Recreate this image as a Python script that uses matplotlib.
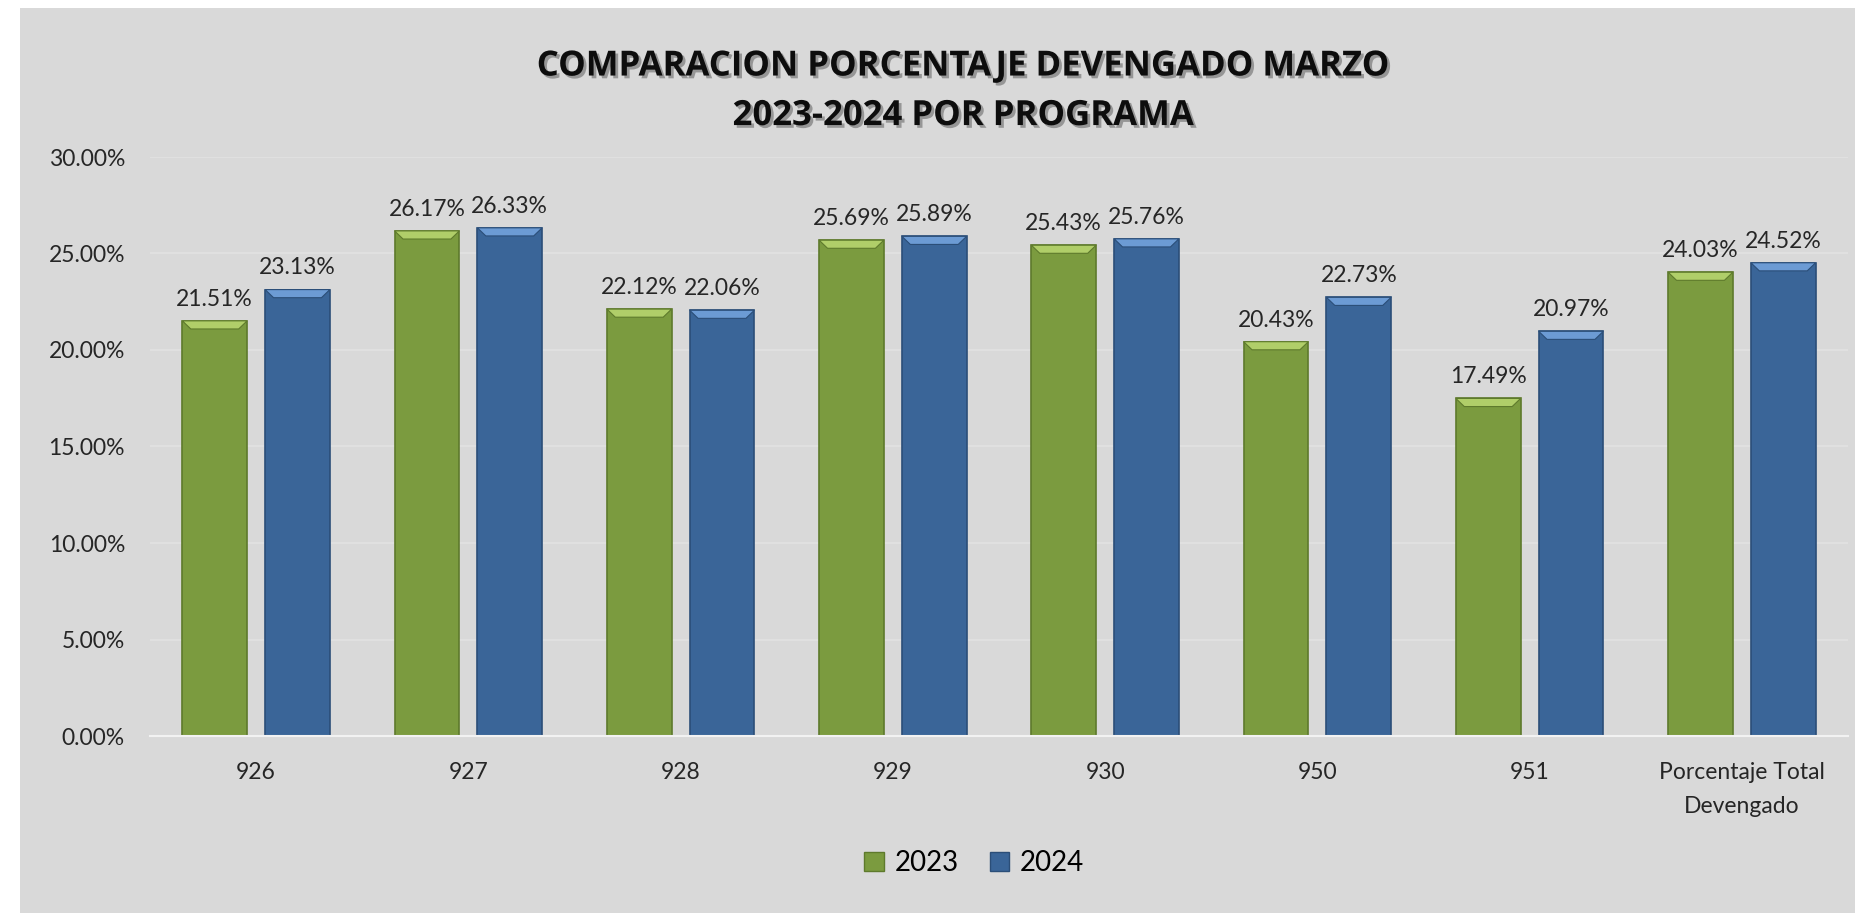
import matplotlib
matplotlib.use("Agg")
import matplotlib.pyplot as plt
import matplotlib.patheffects as pe
from matplotlib.patches import Polygon, Patch, Rectangle

plt.rcParams['font.family'] = ['Lato', 'DejaVu Sans']

categories = ['926', '927', '928', '929', '930', '950', '951', 'Porcentaje Total\nDevengado']
values_2023 = [21.51, 26.17, 22.12, 25.69, 25.43, 20.43, 17.49, 24.03]
values_2024 = [23.13, 26.33, 22.06, 25.89, 25.76, 22.73, 20.97, 24.52]
series_names = ['2023', '2024']
y_ticks = [0, 5, 10, 15, 20, 25, 30]

green = '#7B9B3F'
green_top = '#B0CE69'
green_edge = '#5E7A2C'
blue = '#3A6598'
blue_top = '#6C9BD4'
blue_edge = '#2B4E78'
bg = '#D9D9D9'

fig = plt.figure(figsize=(18.56, 9.13), dpi=100)
fig.patch.set_facecolor('white')
fig.patches.append(Rectangle((20 / 1856, 0), 1 - 20 / 1856, 1 - 8 / 913,
                             transform=fig.transFigure, facecolor=bg,
                             edgecolor='none', zorder=-10))

ax = fig.add_axes([150 / 1856, 1 - 736 / 913, 1698 / 1856, 579 / 913])
ax.set_facecolor(bg)
ax.patch.set_alpha(0)

x = list(range(len(categories)))
w = 0.305
off = 0.195


def draw_series(xs, vals, face, top, edge):
    bars = ax.bar(xs, vals, width=w, color=face, edgecolor=edge, linewidth=1.2, zorder=3)
    for rect in bars:
        x0 = rect.get_x()
        bw = rect.get_width()
        h = rect.get_height()
        bh = 0.42
        inset = bw * 0.13
        poly = Polygon([(x0, h), (x0 + bw, h), (x0 + bw - inset, h - bh), (x0 + inset, h - bh)],
                       closed=True, facecolor=top, edgecolor=edge, linewidth=0.8, zorder=4)
        ax.add_patch(poly)
    return bars


b1 = draw_series([i - off for i in x], values_2023, green, green_top, green_edge)
b2 = draw_series([i + off for i in x], values_2024, blue, blue_top, blue_edge)

for bars, vals in ((b1, values_2023), (b2, values_2024)):
    for rect, v in zip(bars, vals):
        ax.annotate('%.2f%%' % v, (rect.get_x() + rect.get_width() / 2, v),
                    xytext=(0, 8), textcoords='offset points', ha='center', va='bottom',
                    fontsize=16.5, color='#262626', zorder=5)

ax.set_xlim(-0.5, len(categories) - 0.5)
ax.set_ylim(0, 30)
ax.set_yticks(y_ticks)
ax.set_yticklabels(['%.2f%%' % t for t in y_ticks])
ax.set_xticks(x)
ax.set_xticklabels(categories, linespacing=1.75)
ax.tick_params(axis='both', length=0, labelsize=16.5, labelcolor='#262626')
ax.tick_params(axis='y', pad=18)
ax.tick_params(axis='x', pad=19)
ax.grid(axis='y', color='#E2E2E2', linewidth=1.2, zorder=0)
for s in ['top', 'right', 'left']:
    ax.spines[s].set_visible(False)
ax.spines['bottom'].set_color('#F2F2F2')
ax.spines['bottom'].set_linewidth(1.5)
ax.spines['bottom'].set_zorder(6)

fig.text(0.519, 0.9, 'COMPARACION PORCENTAJE DEVENGADO MARZO\n2023-2024 POR PROGRAMA',
         ha='center', va='center', fontsize=25, fontweight='bold', color='#0D0D0D',
         family=['Open Sans', 'DejaVu Sans'], linespacing=1.5,
         path_effects=[pe.withSimplePatchShadow(offset=(2, -2), shadow_rgbFace='#555555', alpha=0.5)])

handles = [Patch(facecolor=green, edgecolor=green_edge), Patch(facecolor=blue, edgecolor=blue_edge)]
fig.legend(handles, series_names, loc='center', bbox_to_anchor=(0.525, 0.0548), ncol=2,
           frameon=False, fontsize=20, handlelength=0.7, handleheight=0.7,
           handletextpad=0.4, columnspacing=1.1)

fig.savefig('out.png', dpi=100, facecolor=fig.get_facecolor())
